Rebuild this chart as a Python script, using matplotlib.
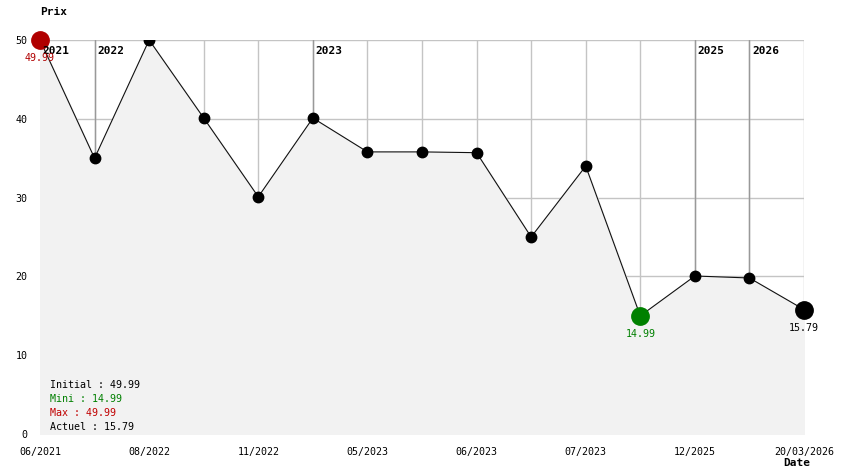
import matplotlib.pyplot as plt
import numpy as np

# price history
dates = ['06/2021', '', '08/2022', '', '11/2022', '', '05/2023', '', '06/2023', '',
         '07/2023', '', '12/2025', '', '20/03/2026']
prices = [49.99, 35.0, 50.0, 40.1, 30.1, 40.1, 35.8, 35.8, 35.7, 25.0,
          34.0, 14.99, 20.05, 19.8, 15.79]
year_idx = [0, 1, 5, 12, 13]
year_lbl = ['2021', '2022', '2023', '2025', '2026']

mono = 'DejaVu Sans Mono'
plt.rcParams['font.family'] = mono
fs = 7.2
fsb = 8

fig = plt.figure(figsize=(8.44, 4.74), dpi=100)
ax = fig.add_axes([40 / 844, 1 - 434 / 474, 764 / 844, 394 / 474])
x = np.arange(len(prices))

ax.set_xlim(0, len(prices) - 1)
ax.set_ylim(0, 50)
for s in ax.spines.values():
    s.set_visible(False)

# grid
for xi in x:
    ax.axvline(xi, color='#c4c4c4', lw=1, zorder=0)
for yv in range(10, 51, 10):
    ax.axhline(yv, color='#c4c4c4', lw=1, zorder=0)
for xi, lbl in zip(year_idx, year_lbl):
    ax.axvline(xi, color='#999999', lw=1, zorder=0.5)
    ax.text(xi + 0.05, 48.6, lbl, fontsize=fsb, fontweight='bold', va='center', ha='left', zorder=5)

ax.fill_between(x, prices, 0, color='#f2f2f2', zorder=1)
ax.plot(x, prices, color='#111111', lw=0.8, zorder=2)
ax.plot(x, prices, 'o', color='black', ms=7.5, zorder=3)

imin = int(np.argmin(prices))
ilast = len(prices) - 1
ax.plot(0, prices[0], 'o', color='#b00000', ms=12.5, zorder=4, clip_on=False)
ax.plot(imin, prices[imin], 'o', color='#008000', ms=12.5, zorder=4)
ax.plot(ilast, prices[ilast], 'o', color='black', ms=12.5, zorder=4, clip_on=False)
ax.text(0, prices[0] - 2.3, f'{prices[0]:.2f}', color='#b00000', fontsize=fs, ha='center', va='center', zorder=5)
ax.text(imin, prices[imin] - 2.3, f'{prices[imin]:.2f}', color='#008000', fontsize=fs, ha='center', va='center', zorder=5)
ax.text(ilast, prices[ilast] - 2.3, f'{prices[ilast]:.2f}', color='black', fontsize=fs, ha='center', va='center', zorder=5)

ax.set_xticks(x)
ax.set_xticklabels(dates, fontsize=fs)
ax.set_yticks(range(0, 51, 10))
ax.set_yticklabels([str(v) for v in range(0, 51, 10)], fontsize=fs)
ax.tick_params(axis='x', length=0, pad=9)
ax.tick_params(axis='y', length=0, pad=9)

summary = [('Initial : 49.99', 'black'), ('Mini : 14.99', '#008000'),
           ('Max : 49.99', '#c00000'), ('Actuel : 15.79', 'black')]
for k, (t, c) in enumerate(summary):
    fig.text(50 / 844, 1 - (385 + 14 * k) / 474, t, color=c, fontsize=fs, va='center', ha='left')

fig.text(40 / 844, 1 - 12 / 474, 'Prix', fontsize=fsb, fontweight='bold', va='center')
fig.text(797 / 844, 1 - 463 / 474, 'Date', fontsize=fsb, fontweight='bold', va='center', ha='center')

fig.savefig('out.png', dpi=100)
